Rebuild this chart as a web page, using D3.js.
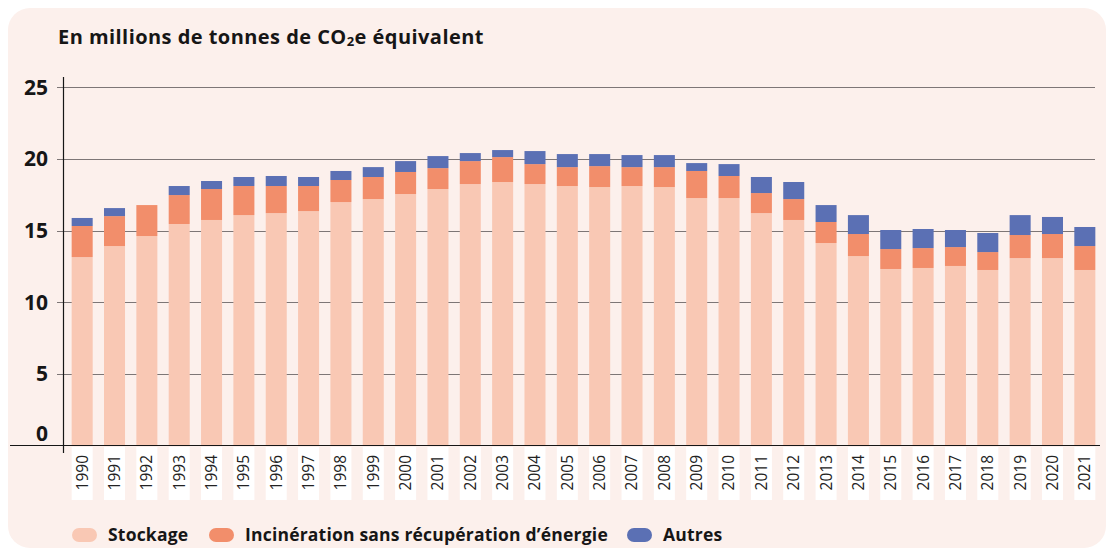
<!DOCTYPE html>
<html lang="fr">
<head>
    <meta charset="utf-8">
    <script src="https://d3js.org/d3.v7.min.js"></script>
    <style>
        body { margin: 0; background: #fff; }
        text { font-family: "Open Sans", sans-serif; }
    </style>
</head>
<body>
<div id="chart"></div>
<script>

// Values (millions de tonnes CO2e)
const years = ["1990","1991","1992","1993","1994","1995","1996","1997","1998","1999",
  "2000","2001","2002","2003","2004","2005","2006","2007","2008","2009",
  "2010","2011","2012","2013","2014","2015","2016","2017","2018","2019","2020","2021"];

const stockage = [13.15, 13.92, 14.62, 15.46, 15.74, 16.08, 16.22, 16.36, 16.99, 17.20,
  17.55, 17.90, 18.25, 18.39, 18.25, 18.11, 18.04, 18.11, 18.04, 17.27,
  17.27, 16.22, 15.74, 14.13, 13.22, 12.32, 12.39, 12.53, 12.25, 13.08, 13.08, 12.25];

const incineration = [2.17, 2.09, 2.16, 2.02, 2.16, 2.03, 1.89, 1.75, 1.54, 1.54,
  1.54, 1.46, 1.60, 1.74, 1.39, 1.32, 1.46, 1.32, 1.39, 1.89,
  1.54, 1.40, 1.46, 1.47, 1.54, 1.39, 1.39, 1.32, 1.25, 1.61, 1.68, 1.67];

const autres = [0.56, 0.56, 0, 0.63, 0.56, 0.63, 0.70, 0.63, 0.63, 0.69,
  0.76, 0.84, 0.56, 0.49, 0.91, 0.91, 0.84, 0.84, 0.84, 0.55,
  0.83, 1.12, 1.19, 1.18, 1.32, 1.33, 1.33, 1.19, 1.33, 1.39, 1.19, 1.33];

const seriesNames = ["Stockage", "Incinération sans récupération d’énergie", "Autres"];
const seriesColors = ["#f9c8b4", "#f28e6b", "#5b70b4"];
const yTicks = [0, 5, 10, 15, 20, 25];

const width = 1106, height = 550;

// table for d3.stack
const keys = ["stockage", "incineration", "autres"];
const table = years.map((y, i) => ({
  year: y, stockage: stockage[i], incineration: incineration[i], autres: autres[i]
}));
const stacked = d3.stack().keys(keys)(table);

const x = d3.scaleBand().domain(years).range([66, 1101]).paddingInner(0.35).paddingOuter(0.175);
const y = d3.scaleLinear().domain([0, 25]).range([445.5, 87.3]);
const color = d3.scaleOrdinal().domain(keys).range(seriesColors);

const svg = d3.select("#chart").append("svg")
  .attr("width", width)
  .attr("height", height);

// card background
svg.append("rect")
  .attr("x", 8).attr("y", 8)
  .attr("width", 1098).attr("height", 540)
  .attr("rx", 22)
  .attr("fill", "#fcf0ec");

// title
const title = svg.append("text")
  .attr("x", 58).attr("y", 44)
  .attr("font-size", 20).attr("font-weight", 700)
  .attr("letter-spacing", 0.45)
  .attr("fill", "#161616");
title.append("tspan").text("En millions de tonnes de CO");
title.append("tspan").attr("font-size", 13).attr("dy", 2).text("2");
title.append("tspan").attr("dy", -2).text("e équivalent");

// gridlines + y tick labels
const grid = svg.append("g");
grid.selectAll("line")
  .data(yTicks.filter(d => d > 0))
  .join("line")
  .attr("x1", 57).attr("x2", 1095)
  .attr("y1", d => Math.round(y(d)) + 0.5).attr("y2", d => Math.round(y(d)) + 0.5)
  .attr("stroke", "#7d7676").attr("stroke-width", 1.2);

svg.append("g").selectAll("text")
  .data(yTicks)
  .join("text")
  .attr("x", 48)
  .attr("y", d => d === 0 ? y(d) - 12 : y(d))
  .attr("dy", "0.35em")
  .attr("text-anchor", "end")
  .attr("font-size", 21).attr("font-weight", 700)
  .attr("fill", "#161616")
  .text(d => d);

// bars
svg.append("g").selectAll("g")
  .data(stacked)
  .join("g")
  .attr("fill", d => color(d.key))
  .selectAll("rect")
  .data(d => d)
  .join("rect")
  .attr("x", d => x(d.data.year))
  .attr("width", x.bandwidth())
  .attr("y", d => y(d[1]))
  .attr("height", d => y(d[0]) - y(d[1]));

// axes lines
svg.append("line")
  .attr("x1", 10).attr("x2", 1100)
  .attr("y1", 445.5).attr("y2", 445.5)
  .attr("stroke", "#161616").attr("stroke-width", 1.2);
svg.append("line")
  .attr("x1", 63.5).attr("x2", 63.5)
  .attr("y1", 77).attr("y2", 453)
  .attr("stroke", "#161616").attr("stroke-width", 1.2);

// year labels on white boxes
const xl = svg.append("g").selectAll("g")
  .data(years)
  .join("g");
xl.append("rect")
  .attr("x", d => x(d))
  .attr("y", 447)
  .attr("width", x.bandwidth())
  .attr("height", 53)
  .attr("fill", "#fff");
xl.append("text")
  .attr("transform", d => `translate(${x(d) + x.bandwidth() / 2},455) rotate(-90)`)
  .attr("dy", "0.35em")
  .attr("text-anchor", "end")
  .attr("font-size", 15.5)
  .attr("fill", "#222")
  .text(d => d);

// legend
const legendX = [72, 209, 627];
const legend = svg.append("g").selectAll("g")
  .data(seriesNames)
  .join("g")
  .attr("transform", (d, i) => `translate(${legendX[i]},535)`);
legend.append("rect")
  .attr("x", 0).attr("y", -7)
  .attr("width", 25).attr("height", 14)
  .attr("rx", 7)
  .attr("fill", (d, i) => seriesColors[i]);
legend.append("text")
  .attr("x", 36)
  .attr("dy", "0.35em")
  .attr("font-size", 17.5).attr("font-weight", 700)
  .attr("letter-spacing", 0.2)
  .attr("fill", "#161616")
  .text(d => d);

</script>
</body>
</html>
